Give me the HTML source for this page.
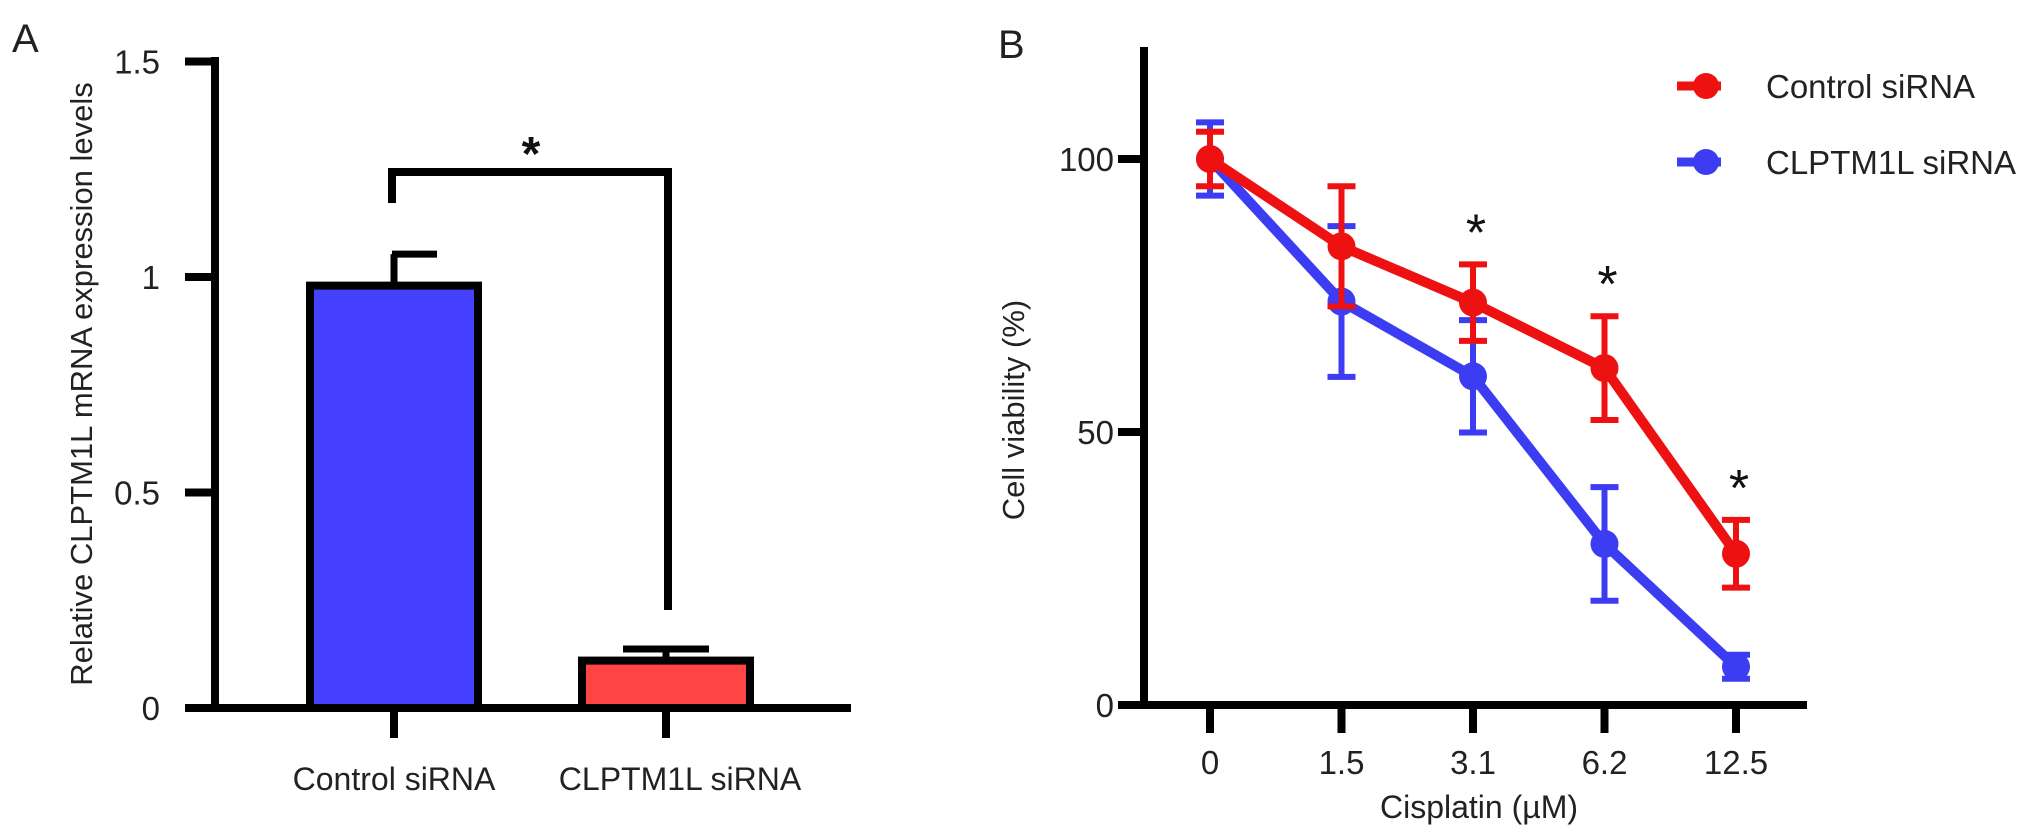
<!DOCTYPE html>
<html><head><meta charset="utf-8"><style>
html,body{margin:0;padding:0;background:#fff;width:2032px;height:834px;overflow:hidden}
svg{display:block;font-family:"Liberation Sans",Arial,sans-serif}
</style></head><body>
<svg id="chart" width="2032" height="834" viewBox="0 0 2032 834" xmlns="http://www.w3.org/2000/svg">
<text x="12" y="52" font-size="40" fill="#222">A</text>
<text x="998" y="58" font-size="40" fill="#222">B</text>
<g id="pa"></g>
<g id="pb"></g>
</svg>
<script>
// Panel A data
const barCategories = ["Control siRNA", "CLPTM1L siRNA"];
const barValues = [0.98, 0.11];
const barErrors = [0.073, 0.027];
const aTicks = [0, 0.5, 1, 1.5];
const aTickLabels = ["0", "0.5", "1", "1.5"];
// Panel B data
const doseLabels = ["0", "1.5", "3.1", "6.2", "12.5"];
const controlValues = [100, 84, 73.7, 61.7, 27.7];
const controlErrors = [5, 11, 7, 9.5, 6.2];
const clptmValues = [100, 73.9, 60.2, 29.5, 7];
const clptmErrors = [6.7, 13.8, 10.3, 10.4, 2.2];
const bTicks = [0, 50, 100];
const starIdx = [2, 3, 4];

const NS = "http://www.w3.org/2000/svg";
function mk(parent, tag, attrs, text) {
  const e = document.createElementNS(NS, tag);
  for (const k in attrs) e.setAttribute(k, attrs[k]);
  if (text !== undefined) e.textContent = text;
  parent.appendChild(e);
  return e;
}
const pa = document.getElementById("pa");
const pb = document.getElementById("pb");

// ---------- Panel A ----------
const ay = v => 708 - v * 431;
const ax = i => 394 + i * 272;
const barHalf = 88;
const barFill = ["#4640ff", "#ff4444"];
let el;
el = mk(pa, "line", {x1: 215, y1: 57, x2: 215, y2: 712, stroke: "#000", "stroke-width": 8});


el = mk(pa, "line", {x1: 211, y1: 708, x2: 851, y2: 708, stroke: "#000", "stroke-width": 8});


aTicks.forEach((t, i) => {
  el = mk(pa, "line", {x1: 185, y1: ay(t), x2: 215, y2: ay(t), stroke: "#000", "stroke-width": 8});
  
  
  el = mk(pa, "text", {x: 160, y: ay(t) + 12, "font-size": 33, "text-anchor": "end", fill: "#222"}, aTickLabels[i]);
  
  
});
barValues.forEach((v, i) => {
  const c = ax(i);
  const top = ay(v + barErrors[i]);
  el = mk(pa, "line", {x1: c, y1: ay(v), x2: c, y2: top, stroke: "#000", "stroke-width": 7});
  
  
  const cx1 = i === 0 ? c - 2 : c - 43, cx2 = c + 43;
  el = mk(pa, "line", {x1: cx1, y1: top, x2: cx2, y2: top, stroke: "#000", "stroke-width": 7});
  
  
  el = mk(pa, "rect", {x: c - barHalf + 4, y: ay(v), width: 2 * barHalf - 8, height: 708 - ay(v), fill: barFill[i], stroke: "#000", "stroke-width": 8});
  
  
  el = mk(pa, "line", {x1: c, y1: 708, x2: c, y2: 738, stroke: "#000", "stroke-width": 8});
  
  
  el = mk(pa, "text", {x: c + (i === 0 ? 0 : 14), y: 790, "font-size": 32, "text-anchor": "middle", fill: "#222"}, barCategories[i]);
  
  
});
el = mk(pa, "polyline", {points: "392,203 392,172 668,172 668,610", fill: "none", stroke: "#000", "stroke-width": 8});


el = mk(pa, "text", {x: 531, y: 170, "font-size": 48, "font-weight": "bold", "text-anchor": "middle", fill: "#111"}, "*");


el = mk(pa, "text", {x: 0, y: 0, "font-size": 31, "text-anchor": "middle", fill: "#222", transform: "translate(92,384) rotate(-90)"}, "Relative CLPTM1L mRNA expression levels");



// ---------- Panel B ----------
const by = v => 705 - v * 5.46;
const bx = i => 1210 + i * 131.5;
el = mk(pb, "line", {x1: 1144, y1: 47, x2: 1144, y2: 709, stroke: "#000", "stroke-width": 8});


el = mk(pb, "line", {x1: 1118, y1: 705, x2: 1807, y2: 705, stroke: "#000", "stroke-width": 8});


bTicks.forEach(t => {
  el = mk(pb, "line", {x1: 1118, y1: by(t), x2: 1144, y2: by(t), stroke: "#000", "stroke-width": 8});
  
  
  el = mk(pb, "text", {x: 1114, y: by(t) + 12, "font-size": 33, "text-anchor": "end", fill: "#222"}, String(t));
  
  
});
doseLabels.forEach((d, i) => {
  el = mk(pb, "line", {x1: bx(i), y1: 705, x2: bx(i), y2: 733, stroke: "#000", "stroke-width": 8});
  
  
  el = mk(pb, "text", {x: bx(i), y: 774, "font-size": 33, "text-anchor": "middle", fill: "#222"}, d);
  
  
});
el = mk(pb, "text", {x: 1479, y: 818, "font-size": 32, "text-anchor": "middle", fill: "#222"}, "Cisplatin (\u00b5M)");


el = mk(pb, "text", {x: 0, y: 0, "font-size": 31, "text-anchor": "middle", fill: "#222", transform: "translate(1024,410) rotate(-90)"}, "Cell viability (%)");



function series(vals, errs, color, name) {
  const g = mk(pb, "g", {});
  
  
  vals.forEach((v, i) => {
    const x = bx(i), hi = by(v + errs[i]), lo = by(v - errs[i]);
    el = mk(g, "path", {d: `M${x},${hi}V${lo}M${x - 14},${hi}H${x + 14}M${x - 14},${lo}H${x + 14}`, stroke: color, "stroke-width": 6, fill: "none"});
    
    
  });
  el = mk(g, "polyline", {points: vals.map((v, i) => bx(i) + "," + by(v)).join(" "), fill: "none", stroke: color, "stroke-width": 10, "stroke-linejoin": "round"});
  
  
  vals.forEach((v, i) => {
    el = mk(g, "circle", {cx: bx(i), cy: by(v), r: 14, fill: color});
    
    
  });
}
series(clptmValues, clptmErrors, "#3c3cf2", "clptm1l");
series(controlValues, controlErrors, "#ee1111", "control");
starIdx.forEach(i => {
  const top = by(controlValues[i] + controlErrors[i]);
  el = mk(pb, "text", {x: bx(i) + 3, y: top - 14, "font-size": 52, "text-anchor": "middle", fill: "#111"}, "*");
  
  
});
// legend
const legend = [["Control siRNA", "#ee1111", 86], ["CLPTM1L siRNA", "#3c3cf2", 162]];
legend.forEach(([t, c, y]) => {
  const g = mk(pb, "g", {});
  
  
  mk(g, "line", {x1: 1677, y1: y, x2: 1721, y2: y, stroke: c, "stroke-width": 9});
  mk(g, "circle", {cx: 1706, cy: y, r: 13, fill: c});
  mk(g, "text", {x: 1766, y: y + 12, "font-size": 33, fill: "#222"}, t);
});
</script>
</body></html>
